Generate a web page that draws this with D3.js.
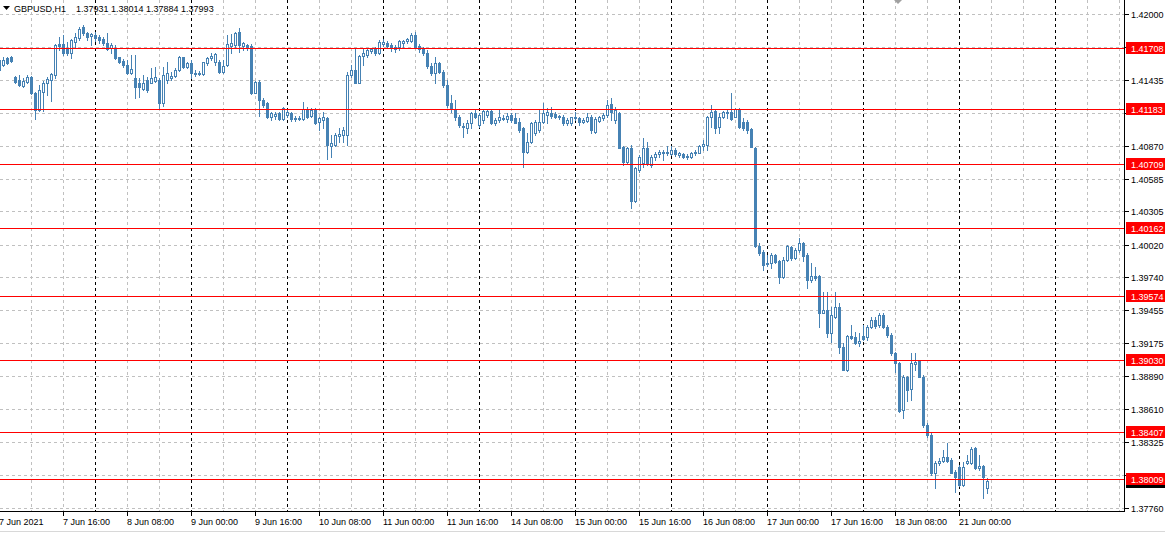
<!DOCTYPE html>
<html><head><meta charset="utf-8">
<script src="https://cdn.jsdelivr.net/npm/d3@7"></script>
<style>
body{margin:0;background:#fff;overflow:hidden}
svg{display:block}
text{font-family:"Liberation Sans",Arial,sans-serif;font-size:9px}
</style>
</head><body>
<svg id="chart" width="1165" height="535"></svg>
<script>
const symbolLabel = "GBPUSD,H1";
const lastQuote = [1.37931, 1.38014, 1.37884, 1.37993];
const opens = [1.41605,1.41562,1.41622,1.41631,1.41459,1.41433,1.41381,1.41416,1.41459,1.41321,1.41175,1.41330,1.41407,1.41433,1.41476,1.41742,1.41742,1.41699,1.41665,1.41759,1.41793,1.41888,1.41836,1.41810,1.41819,1.41802,1.41785,1.41750,1.41707,1.41699,1.41631,1.41596,1.41562,1.41493,1.41450,1.41407,1.41356,1.41433,1.41407,1.41424,1.41433,1.41235,1.41433,1.41450,1.41467,1.41519,1.41631,1.41545,1.41579,1.41493,1.41485,1.41485,1.41579,1.41622,1.41588,1.41588,1.41502,1.41562,1.41725,1.41733,1.41845,1.41725,1.41733,1.41725,1.41321,1.41416,1.41261,1.41235,1.41115,1.41123,1.41149,1.41098,1.41132,1.41149,1.41106,1.41106,1.41098,1.41184,1.41123,1.41175,1.41072,1.41089,1.41106,1.40866,1.40874,1.40951,1.40960,1.40960,1.41476,1.41519,1.41407,1.41639,1.41648,1.41682,1.41699,1.41665,1.41742,1.41750,1.41733,1.41699,1.41716,1.41750,1.41767,1.41767,1.41819,1.41725,1.41699,1.41665,1.41553,1.41493,1.41579,1.41502,1.41390,1.41235,1.41184,1.41115,1.41029,1.41020,1.41063,1.41149,1.41046,1.41089,1.41132,1.41166,1.41063,1.41089,1.41098,1.41098,1.41132,1.41106,1.41072,1.41020,1.40815,1.40900,1.40977,1.41003,1.41072,1.41132,1.41149,1.41141,1.41115,1.41115,1.41063,1.41063,1.41106,1.41106,1.41072,1.41080,1.41115,1.40986,1.41080,1.41106,1.41132,1.41227,1.41089,1.41149,1.40857,1.40729,1.40849,1.40393,1.40660,1.40720,1.40849,1.40703,1.40771,1.40797,1.40806,1.40806,1.40797,1.40832,1.40789,1.40797,1.40780,1.40771,1.40806,1.40806,1.40866,1.40874,1.41115,1.41166,1.41029,1.41115,1.41149,1.41158,1.41115,1.41184,1.41072,1.41072,1.41012,1.40849,1.40007,1.39956,1.39861,1.39861,1.39930,1.39878,1.39741,1.39887,1.39998,1.39904,1.39973,1.40033,1.39930,1.39715,1.39749,1.39749,1.39431,1.39457,1.39259,1.39397,1.39483,1.39139,1.38942,1.39233,1.39225,1.39173,1.39233,1.39225,1.39311,1.39371,1.39328,1.39414,1.39311,1.39242,1.39088,1.39002,1.38598,1.38882,1.38779,1.38994,1.39019,1.38882,1.38469,1.38383,1.38057,1.38143,1.38160,1.38195,1.38169,1.38066,1.38109,1.37954,1.38143,1.38143,1.38272,1.38100,1.38117,1.37931];
const highs = [1.41622,1.41631,1.41631,1.41639,1.41467,1.41476,1.41450,1.41476,1.41467,1.41330,1.41390,1.41424,1.41459,1.41493,1.41742,1.41802,1.41819,1.41759,1.41785,1.41836,1.41888,1.41905,1.41845,1.41836,1.41845,1.41819,1.41802,1.41836,1.41750,1.41733,1.41631,1.41614,1.41605,1.41648,1.41648,1.41450,1.41476,1.41459,1.41536,1.41545,1.41450,1.41545,1.41588,1.41502,1.41536,1.41639,1.41631,1.41588,1.41605,1.41519,1.41510,1.41588,1.41631,1.41665,1.41665,1.41605,1.41605,1.41819,1.41828,1.41845,1.41879,1.41759,1.41742,1.41742,1.41424,1.41433,1.41278,1.41244,1.41158,1.41158,1.41158,1.41200,1.41184,1.41158,1.41123,1.41123,1.41244,1.41200,1.41192,1.41192,1.41115,1.41158,1.41115,1.40960,1.40977,1.41020,1.41029,1.41502,1.41562,1.41707,1.41648,1.41707,1.41707,1.41707,1.41716,1.41776,1.41785,1.41767,1.41750,1.41733,1.41776,1.41776,1.41793,1.41836,1.41845,1.41742,1.41716,1.41691,1.41579,1.41631,1.41588,1.41519,1.41433,1.41304,1.41261,1.41132,1.41063,1.41089,1.41158,1.41175,1.41149,1.41184,1.41184,1.41175,1.41106,1.41175,1.41132,1.41149,1.41149,1.41149,1.41106,1.41029,1.40977,1.41072,1.41089,1.41184,1.41235,1.41192,1.41200,1.41158,1.41132,1.41132,1.41106,1.41115,1.41158,1.41115,1.41106,1.41149,1.41132,1.41115,1.41123,1.41149,1.41261,1.41278,1.41200,1.41158,1.40866,1.40857,1.40874,1.40686,1.40789,1.40934,1.40900,1.40789,1.40815,1.40832,1.40832,1.40866,1.40866,1.40849,1.40815,1.40806,1.40797,1.40815,1.40832,1.40874,1.40917,1.41123,1.41218,1.41184,1.41149,1.41166,1.41184,1.41321,1.41192,1.41192,1.41106,1.41089,1.41020,1.40857,1.40033,1.39973,1.39930,1.39947,1.39938,1.39887,1.39913,1.40016,1.40007,1.39990,1.40075,1.40041,1.39947,1.39861,1.39827,1.39758,1.39612,1.39612,1.39483,1.39612,1.39517,1.39173,1.39242,1.39328,1.39268,1.39259,1.39328,1.39328,1.39397,1.39397,1.39431,1.39431,1.39328,1.39259,1.39096,1.39011,1.38899,1.38890,1.39088,1.39088,1.39028,1.38899,1.38486,1.38400,1.38160,1.38186,1.38255,1.38314,1.38186,1.38083,1.38126,1.38152,1.38212,1.38280,1.38280,1.38212,1.38126,1.38014];
const lows = [1.41493,1.41553,1.41571,1.41588,1.41407,1.41381,1.41373,1.41407,1.41313,1.41098,1.41166,1.41166,1.41304,1.41252,1.41450,1.41691,1.41648,1.41648,1.41622,1.41716,1.41776,1.41819,1.41776,1.41733,1.41767,1.41750,1.41733,1.41691,1.41665,1.41614,1.41579,1.41545,1.41485,1.41485,1.41278,1.41287,1.41347,1.41330,1.41407,1.41416,1.41192,1.41209,1.41407,1.41433,1.41459,1.41510,1.41536,1.41536,1.41450,1.41467,1.41476,1.41476,1.41562,1.41605,1.41562,1.41493,1.41493,1.41553,1.41665,1.41716,1.41673,1.41691,1.41691,1.41313,1.41321,1.41123,1.41200,1.41106,1.41089,1.41098,1.41089,1.41089,1.41115,1.41080,1.41080,1.41089,1.41089,1.41106,1.41115,1.41055,1.41003,1.41020,1.40754,1.40771,1.40866,1.40900,1.40900,1.40874,1.41459,1.41407,1.41407,1.41562,1.41631,1.41665,1.41648,1.41656,1.41725,1.41707,1.41682,1.41673,1.41691,1.41716,1.41750,1.41759,1.41707,1.41673,1.41648,1.41536,1.41476,1.41407,1.41493,1.41373,1.41200,1.41158,1.41089,1.41029,1.40943,1.40977,1.41020,1.41106,1.41029,1.41063,1.41115,1.41055,1.41046,1.41072,1.41089,1.41072,1.41072,1.41063,1.40986,1.40686,1.40806,1.40891,1.40960,1.40986,1.41063,1.41063,1.41106,1.41106,1.41098,1.41046,1.41046,1.41046,1.41089,1.41046,1.41063,1.41072,1.40977,1.40977,1.41072,1.41089,1.41115,1.41089,1.41063,1.40849,1.40703,1.40720,1.40333,1.40385,1.40643,1.40686,1.40703,1.40686,1.40746,1.40771,1.40746,1.40789,1.40789,1.40780,1.40771,1.40763,1.40754,1.40763,1.40789,1.40806,1.40832,1.40832,1.41029,1.40977,1.40977,1.41106,1.41106,1.41089,1.41115,1.41020,1.41003,1.40977,1.40857,1.39998,1.39930,1.39801,1.39835,1.39818,1.39861,1.39689,1.39732,1.39878,1.39887,1.39895,1.39956,1.39878,1.39646,1.39698,1.39715,1.39311,1.39431,1.39225,1.39182,1.39388,1.39088,1.38942,1.38933,1.39208,1.39165,1.39148,1.39199,1.39199,1.39302,1.39302,1.39311,1.39302,1.39225,1.39071,1.38925,1.38581,1.38529,1.38675,1.38684,1.38942,1.38882,1.38452,1.38366,1.38040,1.37928,1.38126,1.38152,1.38152,1.38057,1.37894,1.37945,1.37945,1.38135,1.38135,1.38092,1.38083,1.37842,1.37884];
const closes = [1.41519,1.41605,1.41579,1.41596,1.41416,1.41390,1.41424,1.41459,1.41321,1.41175,1.41347,1.41407,1.41442,1.41485,1.41733,1.41725,1.41665,1.41665,1.41776,1.41802,1.41871,1.41836,1.41802,1.41828,1.41793,1.41776,1.41750,1.41699,1.41733,1.41622,1.41588,1.41562,1.41493,1.41528,1.41373,1.41373,1.41407,1.41347,1.41450,1.41459,1.41235,1.41476,1.41493,1.41467,1.41519,1.41631,1.41545,1.41579,1.41493,1.41485,1.41493,1.41588,1.41622,1.41639,1.41656,1.41502,1.41553,1.41742,1.41750,1.41836,1.41733,1.41750,1.41716,1.41321,1.41416,1.41261,1.41218,1.41115,1.41149,1.41141,1.41098,1.41192,1.41158,1.41098,1.41098,1.41098,1.41184,1.41115,1.41175,1.41063,1.41106,1.41115,1.40874,1.40891,1.40960,1.40968,1.41003,1.41476,1.41519,1.41407,1.41639,1.41665,1.41691,1.41699,1.41665,1.41759,1.41759,1.41725,1.41707,1.41716,1.41767,1.41767,1.41785,1.41819,1.41716,1.41699,1.41665,1.41553,1.41493,1.41579,1.41502,1.41390,1.41218,1.41184,1.41115,1.41046,1.41037,1.41063,1.41149,1.41115,1.41132,1.41166,1.41166,1.41063,1.41089,1.41115,1.41106,1.41123,1.41089,1.41063,1.41003,1.40815,1.40900,1.41063,1.41072,1.41072,1.41149,1.41158,1.41123,1.41115,1.41123,1.41063,1.41089,1.41115,1.41115,1.41072,1.41089,1.41115,1.41003,1.41098,1.41115,1.41132,1.41218,1.41158,1.41175,1.40849,1.40729,1.40849,1.40393,1.40677,1.40771,1.40849,1.40720,1.40771,1.40797,1.40815,1.40815,1.40815,1.40832,1.40797,1.40806,1.40771,1.40771,1.40806,1.40815,1.40866,1.40883,1.41115,1.41158,1.41020,1.41115,1.41158,1.41158,1.41098,1.41184,1.41029,1.41020,1.41003,1.40857,1.40007,1.39947,1.39844,1.39853,1.39930,1.39870,1.39741,1.39887,1.40007,1.39904,1.39973,1.40033,1.39921,1.39715,1.39749,1.39732,1.39431,1.39457,1.39259,1.39414,1.39483,1.39139,1.38942,1.39233,1.39216,1.39173,1.39190,1.39208,1.39311,1.39371,1.39319,1.39414,1.39311,1.39242,1.39088,1.39002,1.38589,1.38882,1.38770,1.39002,1.39011,1.38882,1.38469,1.38383,1.38057,1.38143,1.38160,1.38195,1.38160,1.38057,1.38023,1.37954,1.38109,1.38160,1.38263,1.38100,1.38117,1.38023,1.37993];
const priceTicks = [1.42000,1.41718,1.41435,1.41150,1.40870,1.40585,1.40305,1.40020,1.39740,1.39455,1.39175,1.38890,1.38610,1.38325,1.38045,1.37760];
const levelPrices = [1.41708,1.41183,1.40709,1.40162,1.39574,1.39030,1.38407,1.38009];
const bidPrice = 1.37993;
const timeLabels = ["7 Jun 2021","7 Jun 16:00","8 Jun 08:00","9 Jun 00:00","9 Jun 16:00","10 Jun 08:00","11 Jun 00:00","11 Jun 16:00","14 Jun 08:00","15 Jun 00:00","15 Jun 16:00","16 Jun 08:00","17 Jun 00:00","17 Jun 16:00","18 Jun 08:00","21 Jun 00:00"];
const barsPerLabel = 16, barsPerGrid = 8, barsPerDay = 24, totalSlots = 282;

const W = 1165, H = 535, plotR = 1124, plotB = 511;
const svg = d3.select("#chart");
const x = d3.scaleLinear().domain([0, 1]).range([-1, 3]);      // bar index -> pixel column
const y = d3.scaleLinear().domain([1.3776, 1.42]).range([507.7, 14]);
const py = p => Math.round(y(p));
const steel = "#4682B4";

svg.append("rect").attr("width", W).attr("height", H).attr("fill", "#fff");
const plot = svg.append("g").attr("shape-rendering", "crispEdges");
plot.append("clipPath").attr("id","clip").append("rect").attr("x",0).attr("y",0).attr("width",plotR).attr("height",plotB);
const g = plot.append("g").attr("clip-path","url(#clip)");

// horizontal grid
g.selectAll("line.hg").data(priceTicks).join("line")
  .attr("x1", 0).attr("x2", plotR).attr("y1", d => py(d)+0.5).attr("y2", d => py(d)+0.5)
  .attr("stroke", "#c0c0c0").attr("stroke-dasharray", "3,3");
// vertical grid
const gridIdx = d3.range(barsPerGrid, totalSlots, barsPerGrid);
g.selectAll("line.vg").data(gridIdx.filter(i => i % barsPerDay !== 0)).join("line")
  .attr("x1", i => x(i)+0.5).attr("x2", i => x(i)+0.5).attr("y1", 0).attr("y2", plotB)
  .attr("stroke", "#c0c0c0").attr("stroke-dasharray", "3,3");
// day separators
const sepIdx = d3.range(barsPerDay, totalSlots, barsPerDay);
g.selectAll("line.sep").data(sepIdx).join("line")
  .attr("x1", i => x(i)+0.5).attr("x2", i => x(i)+0.5).attr("y1", 0).attr("y2", plotB)
  .attr("stroke", "#000").attr("stroke-dasharray", "3,3");

// candles
const bars = opens.map((o, i) => ({i, o, h: highs[i], l: lows[i], c: closes[i]}));
const cg = g.append("g");
cg.selectAll("line.wick").data(bars).join("line")
  .attr("x1", d => x(d.i)+0.5).attr("x2", d => x(d.i)+0.5)
  .attr("y1", d => py(d.h)).attr("y2", d => py(d.l)+1)
  .attr("stroke", steel);
cg.selectAll("rect.body").data(bars).join("rect")
  .each(function(d){
    const top = py(Math.max(d.o, d.c)), bot = py(Math.min(d.o, d.c));
    const s = d3.select(this);
    if (d.c > d.o && bot - top >= 2) {
      s.attr("x", x(d.i)-0.5).attr("y", top+0.5).attr("width", 2).attr("height", bot-top)
       .attr("fill", "#fff").attr("stroke", steel);
    } else {
      s.attr("x", x(d.i)-1).attr("y", top).attr("width", 3).attr("height", Math.max(1, bot-top+1))
       .attr("fill", steel);
    }
  });

// level lines
g.selectAll("line.lvl").data(levelPrices).join("line")
  .attr("x1", 0).attr("x2", plotR).attr("y1", d => py(d)+0.5).attr("y2", d => py(d)+0.5)
  .attr("stroke", "#ff0000");

// borders
plot.append("line").attr("x1", plotR+0.5).attr("x2", plotR+0.5).attr("y1", 0).attr("y2", plotB+1).attr("stroke","#000");
plot.append("line").attr("x1", 0).attr("x2", plotR+1).attr("y1", plotB+0.5).attr("y2", plotB+0.5).attr("stroke","#000");

// right axis (tick texts hidden behind level labels are not drawn)
const visibleTicks = priceTicks.filter(t => levelPrices.every(l => Math.abs(py(l) - py(t)) > 7));
const ax = svg.append("g");
ax.selectAll("line").data(priceTicks).join("line").attr("shape-rendering","crispEdges")
  .attr("x1", plotR+1).attr("x2", plotR+5).attr("y1", d => py(d)+0.5).attr("y2", d => py(d)+0.5).attr("stroke","#000");
ax.selectAll("text").data(visibleTicks).join("text")
  .attr("x", 1131).attr("y", d => py(d)+3.5).attr("fill","#000").text(d => d.toFixed(5));

// bid label (mostly covered by the nearest level label)
svg.append("rect").attr("x", plotR+2).attr("y", py(bidPrice)-6).attr("width", 40).attr("height", 13).attr("fill","#000");
// level labels
const ll = svg.append("g").selectAll("g").data(levelPrices).join("g");
ll.append("rect").attr("x", plotR+2).attr("y", d => py(d)-6).attr("width", 40).attr("height", 12).attr("fill","#ff0000");
ll.append("text").attr("x", 1131).attr("y", d => py(d)+3.5).attr("fill","#fff").text(d => d.toFixed(5));

// time axis
const tIdx = timeLabels.map((t, k) => k * barsPerLabel);
const ta = svg.append("g");
ta.selectAll("line").data(tIdx).join("line").attr("shape-rendering","crispEdges")
  .attr("x1", i => x(i)+0.5).attr("x2", i => x(i)+0.5).attr("y1", plotB+1).attr("y2", plotB+5).attr("stroke","#000");
ta.selectAll("text").data(timeLabels).join("text")
  .attr("x", (t, k) => x(tIdx[k])).attr("y", 524.5).attr("fill","#000").text(t => t);

// bottom strip line
svg.append("line").attr("x1",0).attr("x2",W).attr("y1",531.5).attr("y2",531.5).attr("stroke","#d8d8d8").attr("shape-rendering","crispEdges");

// chart shift marker
svg.append("path").attr("d","M894,0 L902,0 L898,4 Z").attr("fill","#a0a0a0");

// title
svg.append("path").attr("d","M3,6 L10,6 L6.5,10 Z").attr("fill","#000");
svg.append("text").attr("x",14).attr("y",12).attr("fill","#000").text(symbolLabel);
svg.append("text").attr("x",76).attr("y",12).attr("fill","#000").text(lastQuote.map(v => v.toFixed(5)).join(" "));
</script>
</body></html>
